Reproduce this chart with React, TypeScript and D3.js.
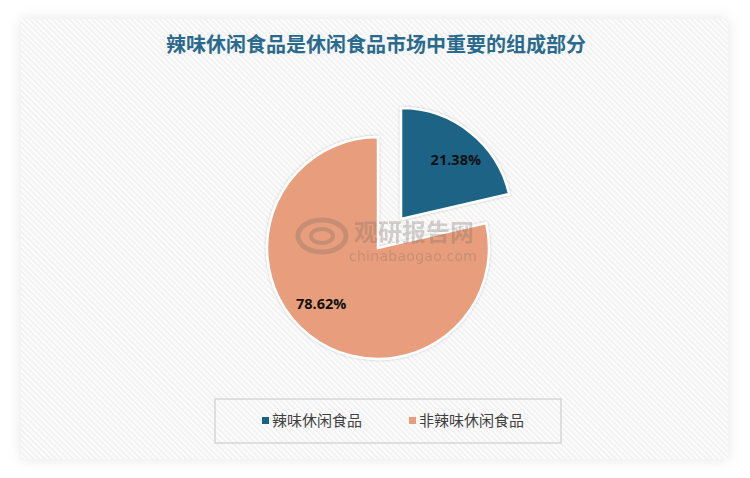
import React, { useEffect, useRef } from 'react';
import * as d3 from 'd3';

const title = '辣味休闲食品是休闲食品市场中重要的组成部分';
const categories = ['辣味休闲食品', '非辣味休闲食品'];
const shares = [21.38, 78.62];
const colors = ['#1b6386', '#e89e7c'];

const App: React.FC = () => {
  const ref = useRef<SVGSVGElement | null>(null);

  useEffect(() => {
    if (!ref.current) return;
    const svg = d3.select(ref.current);
    svg.selectAll('*').remove();

    const width = 750;
    const height = 478;
    const panel = { x: 21, y: 19, w: 707, h: 440 };

    const defs = svg.append('defs');
    const hatch = defs
      .append('pattern')
      .attr('id', 'hatch')
      .attr('width', 4)
      .attr('height', 4)
      .attr('patternUnits', 'userSpaceOnUse')
      .attr('patternTransform', 'rotate(45)');
    hatch.append('rect').attr('width', 4).attr('height', 4).attr('fill', '#fcfcfc');
    hatch.append('rect').attr('width', 4).attr('height', 1.5).attr('fill', '#efefef');

    const shadow = defs
      .append('filter')
      .attr('id', 'panelShadow')
      .attr('x', '-10%')
      .attr('y', '-10%')
      .attr('width', '120%')
      .attr('height', '120%');
    shadow
      .append('feDropShadow')
      .attr('dx', 0)
      .attr('dy', 0)
      .attr('stdDeviation', 7)
      .attr('flood-color', '#000')
      .attr('flood-opacity', 0.1);

    const sliceShadow = defs.append('filter').attr('id', 'sliceShadow');
    sliceShadow
      .append('feDropShadow')
      .attr('dx', 0)
      .attr('dy', 0)
      .attr('stdDeviation', 1)
      .attr('flood-color', '#000')
      .attr('flood-opacity', 0.25);

    svg.append('rect').attr('width', width).attr('height', height).attr('fill', '#ffffff');

    svg
      .append('rect')
      .attr('x', panel.x)
      .attr('y', panel.y)
      .attr('width', panel.w)
      .attr('height', panel.h)
      .attr('fill', 'url(#hatch)')
      .attr('filter', 'url(#panelShadow)');

    // title
    svg
      .append('text')
      .attr('x', 376)
      .attr('y', 52)
      .attr('text-anchor', 'middle')
      .attr('font-family', '"Noto Sans CJK SC", sans-serif')
      .attr('font-weight', 'bold')
      .attr('font-size', 20)
      .attr('fill', '#2a6a8c')
      .text(title);

    // pie
    const cx = 378;
    const cy = 248;
    const radius = 111;
    const explode = 37;

    const pie = d3
      .pie<number>()
      .sort(null)
      .value((d) => d);
    const arcs = pie(shares);
    const arc = d3.arc<d3.PieArcDatum<number>>().innerRadius(0).outerRadius(radius);
    const labelArc = d3.arc<d3.PieArcDatum<number>>().innerRadius(80).outerRadius(80);

    const g = svg.append('g').attr('transform', `translate(${cx},${cy})`);

    const slices = g
      .selectAll('g.slice')
      .data(arcs)
      .enter()
      .append('g')
      .attr('class', 'slice')
      .attr('transform', (d, i) => {
        if (i !== 0) return 'translate(0,0)';
        const mid = (d.startAngle + d.endAngle) / 2;
        return `translate(${Math.sin(mid) * explode},${-Math.cos(mid) * explode})`;
      });

    slices
      .append('path')
      .attr('d', arc)
      .attr('fill', (d, i) => colors[i])
      .attr('stroke', '#ffffff')
      .attr('stroke-width', 2.5)
      .attr('stroke-linejoin', 'miter')
      .attr('filter', 'url(#sliceShadow)');

    // label nudges so they sit where the reference puts them
    const nudge = [
      [5, 4],
      [-7, -7],
    ];
    slices
      .append('text')
      .attr('transform', (d, i) => {
        const [x, y] = labelArc.centroid(d);
        return `translate(${x + nudge[i][0]},${y + nudge[i][1]})`;
      })
      .attr('text-anchor', 'middle')
      .attr('dy', '0.35em')
      .attr('font-family', '"Open Sans", sans-serif')
      .attr('font-weight', 'bold')
      .attr('font-size', 14.5)
      .attr('fill', '#111111')
      .text((d) => `${d.data.toFixed(2)}%`);

    // watermark
    const wm = svg.append('g').attr('opacity', 0.3).attr('fill', '#7a6a62');
    const logo = wm.append('g').attr('transform', 'translate(322,236)');
    logo
      .append('ellipse')
      .attr('rx', 24)
      .attr('ry', 16)
      .attr('fill', 'none')
      .attr('stroke', '#7a6a62')
      .attr('stroke-width', 5);
    logo
      .append('ellipse')
      .attr('rx', 11)
      .attr('ry', 7)
      .attr('fill', 'none')
      .attr('stroke', '#7a6a62')
      .attr('stroke-width', 4);
    wm.append('text')
      .attr('x', 354)
      .attr('y', 241)
      .attr('font-family', '"Noto Sans CJK SC", sans-serif')
      .attr('font-weight', 'bold')
      .attr('font-size', 24)
      .text('观研报告网');
    wm.append('text')
      .attr('x', 349)
      .attr('y', 261)
      .attr('font-family', '"DejaVu Sans", sans-serif')
      .attr('font-size', 14)
      .attr('textLength', 128)
      .text('chinabaogao.com');

    // legend
    const legend = svg.append('g');
    legend
      .append('rect')
      .attr('x', 215)
      .attr('y', 399)
      .attr('width', 346)
      .attr('height', 44)
      .attr('fill', 'none')
      .attr('stroke', '#d6d6d6')
      .attr('stroke-width', 1.5);

    const legendX = [262, 409];
    categories.forEach((name, i) => {
      legend
        .append('rect')
        .attr('x', legendX[i])
        .attr('y', 417)
        .attr('width', 7)
        .attr('height', 7)
        .attr('fill', colors[i]);
      legend
        .append('text')
        .attr('x', legendX[i] + 10)
        .attr('y', 426)
        .attr('font-family', '"Noto Sans CJK SC", sans-serif')
        .attr('font-size', 15)
        .attr('fill', '#404040')
        .text(name);
    });
  }, []);

  return (
    <svg
      ref={ref}
      width={750}
      height={478}
      style={{ position: 'absolute', left: 0, top: 0 }}
    ></svg>
  );
};

export default App;
